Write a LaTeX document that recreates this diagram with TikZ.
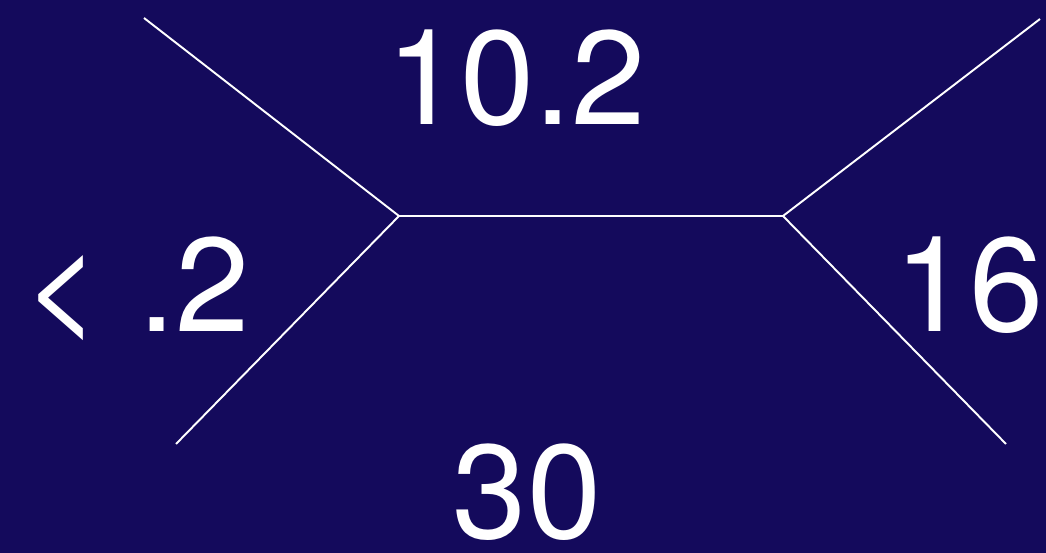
\documentclass[tikz,border=0pt]{standalone}
\usepackage{fontspec}
\setmainfont{TeX Gyre Heros}
\usepackage{xcolor}
\usepackage{tikz}
\definecolor{slidebg}{HTML}{140A5C}
\tikzset{
  treejoin/.style={coordinate},
  treeedge/.style={-, draw=white, line width=1.1pt},
  branchlabel/.style={text=white, anchor=base, inner sep=0pt, font=\fontsize{76}{78}\selectfont}
}

\begin{document}
\begin{tikzpicture}
  \fill[slidebg] (0,0) rectangle (20.92,11.06);
  \useasboundingbox (0,0) rectangle (20.92,11.06);

  \node[treejoin] (jl) at (7.98,6.74) {};
  \node[treejoin] (jr) at (15.66,6.74) {};
  \node[treejoin] (tl) at (2.88,10.70) {};
  \node[treejoin] (bl) at (3.52,2.18) {};
  \node[treejoin] (tr) at (20.80,10.68) {};
  \node[treejoin] (br) at (20.12,2.18) {};

  \draw[treeedge] (tl) -- (jl) -- (bl);
  \draw[treeedge] (jl) -- (jr);
  \draw[treeedge] (tr) -- (jr) -- (br);

  \node[branchlabel] (top) at (10.32,8.56) {10.2};
  \node[branchlabel] (left) at (2.74,4.42) {< .2};
  \node[branchlabel] (right) at (19.38,4.42) {16};
  \node[branchlabel] (bottom) at (10.54,0.28) {30};
\end{tikzpicture}
\end{document}
